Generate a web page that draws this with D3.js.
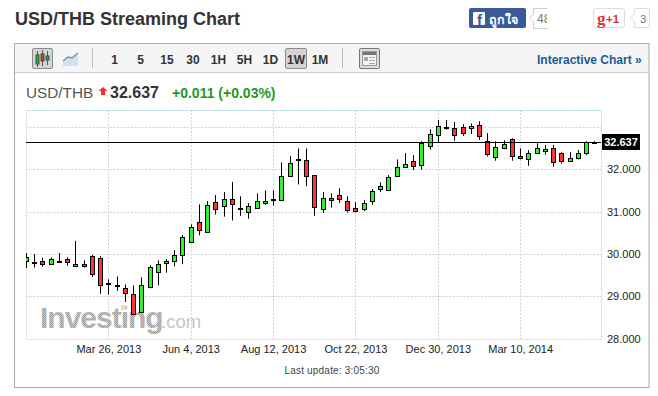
<!DOCTYPE html>
<html><head><meta charset="utf-8">
<script src="https://cdn.jsdelivr.net/npm/d3@7/dist/d3.min.js"></script>
<style>html,body{margin:0;padding:0;background:#fff}svg{display:block}text{font-family:"Liberation Sans",Arial,sans-serif}</style>
</head><body><svg id="c" width="658" height="396"></svg>
<script>
const opens=[29.83,29.78,29.83,29.76,29.80,29.87,29.71,29.76,29.95,29.90,29.28,29.26,29.19,29.05,28.62,29.21,29.57,29.78,29.83,29.97,30.28,30.75,30.51,31.22,31.13,31.29,31.05,30.98,31.08,31.20,31.28,31.27,31.83,32.20,32.21,31.86,31.05,31.31,31.39,31.24,31.08,31.05,31.24,31.53,31.50,31.83,32.05,32.19,32.09,32.54,32.80,32.98,32.97,32.99,32.97,33.04,32.66,32.28,32.49,32.71,32.31,32.23,32.38,32.42,32.49,32.38,32.19,32.26,32.38,32.61];
const highs=[30.02,30.00,29.91,29.92,30.02,29.92,30.31,29.85,29.98,29.95,29.40,29.47,29.28,29.26,29.45,29.73,29.85,29.88,30.09,30.45,30.70,31.17,31.25,31.39,31.46,31.70,31.36,31.20,31.43,31.50,31.50,32.16,32.31,32.49,32.49,31.86,31.46,31.43,31.55,31.36,31.22,31.27,31.53,31.69,31.86,32.23,32.38,32.33,32.66,32.94,33.16,33.16,33.11,33.06,33.08,33.13,32.85,32.66,32.68,32.73,32.49,32.45,32.61,32.57,32.57,32.40,32.40,32.45,32.66,32.66];
const lows=[29.67,29.68,29.70,29.75,29.79,29.72,29.70,29.68,29.46,29.06,29.04,29.13,28.87,28.56,28.61,29.19,29.26,29.56,29.71,29.76,30.26,30.44,30.51,30.93,30.88,30.79,30.90,30.83,31.07,31.16,31.14,31.26,31.82,31.64,31.60,30.90,30.97,31.09,31.20,30.98,30.98,31.01,31.16,31.46,31.50,31.83,32.04,31.98,31.99,32.46,32.64,32.93,32.67,32.78,32.83,32.69,32.30,32.20,32.47,32.20,32.23,32.08,32.37,32.34,32.06,32.13,32.18,32.23,32.33,32.60];
const closes=[29.92,29.80,29.77,29.87,29.83,29.79,29.76,29.71,29.52,29.26,29.31,29.28,29.07,28.58,29.26,29.69,29.76,29.83,29.97,30.39,30.63,30.56,31.15,31.05,31.29,31.17,31.08,31.13,31.24,31.24,31.30,31.83,32.14,32.23,31.83,31.10,31.31,31.27,31.29,31.03,31.01,31.20,31.48,31.60,31.81,32.05,32.12,32.07,32.61,32.82,33.01,33.00,32.80,32.85,33.01,32.78,32.35,32.52,32.59,32.31,32.26,32.38,32.49,32.47,32.16,32.19,32.26,32.38,32.64,32.637];
const tickIndex=[10,20,30,40,50,60];
const tickLabels=["Mar 26, 2013","Jun 4, 2013","Aug 12, 2013","Oct 22, 2013","Dec 30, 2013","Mar 10, 2014"];
const priceTicks=[28,29,30,31,32];
const gridPrices=[29,30,31,32,33];
const lastPrice=32.637;
const intervals=["1","5","15","30","1H","5H","1D","1W","1M"];
const intervalX=[114.5,140.5,167,193,218.5,244.5,270.5,296,320];

const svg=d3.select("#c");
const F='"Liberation Sans",Arial,sans-serif';
const txt=(s,x,y,size,fill,weight,anchor)=>svg.append("text").attr("x",x).attr("y",y).attr("font-size",size).attr("fill",fill).attr("font-weight",weight||"normal").attr("text-anchor",anchor||"start").text(s);

// header
txt("USD/THB Streaming Chart",15,25,18,"#333","bold");
svg.append("rect").attr("x",469).attr("y",8).attr("width",57).attr("height",20).attr("rx",2).attr("fill","#3b5998");
svg.append("rect").attr("x",473).attr("y",12).attr("width",12).attr("height",13).attr("rx",1).attr("fill","#fff");
txt("f",477,25,15,"#3b5998","bold");
txt("ถูกใจ",489,24,12.5,"#fff","bold");
svg.append("path").attr("d","M547.5 8.5H533.5V14.5L529.5 18L533.5 22V28.5H547.5").attr("fill","#fff").attr("stroke","#ccc");
svg.append("defs").append("clipPath").attr("id","cnt").append("rect").attr("x",533).attr("y",8).attr("width",14).attr("height",20);
txt("48",537,23,12,"#777").attr("clip-path","url(#cnt)");
svg.append("rect").attr("x",593.5).attr("y",8.5).attr("width",31).attr("height",19).attr("rx",2).attr("fill","#fff").attr("stroke","#ddd");
svg.append("text").attr("x",597).attr("y",24).attr("font-size",17).attr("fill","#d33").attr("font-weight","bold").style("font-family",'"Liberation Serif",serif').text("g");
txt("+1",606,23,11.5,"#d33","bold");
svg.append("path").attr("d","M634.5 8.5H649.5V27.5H634.5V22L630.5 18L634.5 14Z").attr("fill","#fff").attr("stroke","#ddd");
txt("3",640,23,11.5,"#778");

// frame + toolbar
svg.append("rect").attr("x",14.5).attr("y",44.5).attr("width",634.5).attr("height",27.5).attr("fill","#f6f5f6");
svg.append("rect").attr("x",14.5).attr("y",43.5).attr("width",634.5).attr("height",344).attr("fill","none").attr("stroke","#aaa");
svg.append("line").attr("x1",15).attr("x2",649).attr("y1",72.5).attr("y2",72.5).attr("stroke","#d0c8d0");
[[32.5,20],[285.5,21]].forEach(([x,w])=>svg.append("rect").attr("x",x).attr("y",48.5).attr("width",w).attr("height",20).attr("rx",1.5).attr("fill","#d4d4d4").attr("stroke","#8a8a8a"));
[92.5,342.5].forEach(x=>svg.append("line").attr("x1",x).attr("x2",x).attr("y1",48).attr("y2",68).attr("stroke","#bbb"));
// toolbar candle icon
[[37.5,55,64,"#22b022",51,67],[42.5,54,61,"#e03030",50,66],[47.5,56,60,"#22b022",51,65]].forEach(([x,t,b,c,h,l])=>{
  svg.append("line").attr("x1",x).attr("x2",x).attr("y1",h).attr("y2",l).attr("stroke","#556");
  svg.append("rect").attr("x",x-1.5).attr("y",t).attr("width",3).attr("height",b-t).attr("fill",c).attr("stroke","#354");
});
svg.append("path").attr("d","M63 66V61L68 57L72 58L78 53V66Z").attr("fill","#d5dfee");
svg.append("path").attr("d","M63 61L68 57L72 58L78 53").attr("fill","none").attr("stroke","#6a8fc0").attr("stroke-width",1.3);
// news icon
svg.append("rect").attr("x",359.5).attr("y",48.5).attr("width",20).attr("height",20).attr("rx",1.5).attr("fill","#ddd").attr("stroke","#777");
svg.append("rect").attr("x",362.5).attr("y",51.5).attr("width",14).attr("height",14).attr("fill","#f2f2f2").attr("stroke","#999");
svg.append("rect").attr("x",363).attr("y",52).attr("width",13).attr("height",3).attr("fill","#777");
svg.append("rect").attr("x",364).attr("y",57).attr("width",4).attr("height",4).attr("fill","#aaa");
[57.5,60.5,63.5].forEach(y=>svg.append("line").attr("x1",369).attr("x2",375).attr("y1",y).attr("y2",y).attr("stroke","#aaa"));
intervals.forEach((s,i)=>txt(s,intervalX[i],64,12,"#333","bold","middle"));
txt("Interactive Chart »",537,64,12,"#1a5c96","bold");

// quote line
txt("USD/THB",26,98,15.3,"#555");
svg.append("path").attr("d","M103 87L107.5 91L105 91L105 95L101 95L101 91L98.5 91Z").attr("fill","#f03038");
txt("32.637",110,98,16,"#333","bold");
txt("+0.011 (+0.03%)",172,98,14,"#1d9a1d","bold");

// scales
const L=26,R=601,T=110,B=339;
const x=d3.scaleLinear().domain([0,69]).range([26,594.3]);
const y=d3.scaleLinear().domain([28,33.4]).range([338.8,109.8]);
const sn=v=>Math.round(v)+0.5;

// plot frame & grid
const gridCol="#cfd2dc";
const g=svg.append("g");
g.append("rect").attr("x",L+.5).attr("y",T+.5).attr("width",R-L).attr("height",B-T).attr("fill","none").attr("stroke","#c8d4dc").attr("stroke-dasharray","1.5 1");
g.append("line").attr("x1",L).attr("x2",R).attr("y1",T+.5).attr("y2",T+.5).attr("stroke","#b0e4e8").attr("stroke-dasharray","1.5 1");
g.selectAll("line.gy").data(gridPrices).join("line").attr("class","gy").attr("x1",L).attr("x2",R).attr("y1",d=>sn(y(d))).attr("y2",d=>sn(y(d))).attr("stroke",gridCol).attr("stroke-dasharray","2 1.5");
g.selectAll("line.gx").data(tickIndex).join("line").attr("class","gx").attr("y1",T).attr("y2",B).attr("x1",d=>sn(x(d))).attr("x2",d=>sn(x(d))).attr("stroke",gridCol).attr("stroke-dasharray","2 1.5");

// watermark
const defs=svg.append("defs");
const pat=defs.append("pattern").attr("id","dith").attr("width",2).attr("height",2).attr("patternUnits","userSpaceOnUse");
pat.append("rect").attr("width",2).attr("height",2).attr("fill","#c4c4c4");
pat.append("rect").attr("width",1).attr("height",1).attr("fill","#a0a0a0");
pat.append("rect").attr("x",1).attr("y",1).attr("width",1).attr("height",1).attr("fill","#a0a0a0");
svg.append("text").attr("x",40).attr("y",328).attr("font-size",30).attr("font-weight","bold").attr("fill","url(#dith)").attr("letter-spacing",-1).text("Investing");
svg.append("text").attr("x",161).attr("y",328).attr("font-size",18.5).attr("fill","#c6c6c6").text(".com");
svg.append("rect").attr("x",121).attr("y",305).attr("width",5).attr("height",5).attr("fill","#f3d9a8");

// candles
svg.append("defs").append("clipPath").attr("id","plot").append("rect").attr("x",L).attr("y",T).attr("width",R-L).attr("height",B-T);
const cg=svg.append("g").attr("clip-path","url(#plot)");
const idx=d3.range(opens.length);
cg.selectAll("line.w").data(idx).join("line").attr("class","w")
  .attr("x1",i=>sn(x(i))).attr("x2",i=>sn(x(i))).attr("y1",i=>y(highs[i])).attr("y2",i=>y(lows[i])).attr("stroke","#000");
cg.selectAll("rect.b").data(idx).join("rect").attr("class","b")
  .attr("x",i=>sn(x(i))-2).attr("width",4)
  .attr("y",i=>sn(y(Math.max(opens[i],closes[i]))))
  .attr("height",i=>Math.max(1,Math.round(Math.abs(y(opens[i])-y(closes[i])))))
  .attr("fill",i=>closes[i]>=opens[i]?"#33f033":"#ff3333").attr("stroke","#000");

// last price line
svg.append("line").attr("x1",L).attr("x2",R).attr("y1",sn(y(lastPrice))).attr("y2",sn(y(lastPrice))).attr("stroke","#000");

// axes
const ax=svg.append("g").attr("transform",`translate(0,${B})`).call(d3.axisBottom(x).tickValues(tickIndex).tickFormat((d,i)=>tickLabels[i]).tickSize(0).tickPadding(6));
ax.select(".domain").remove();
ax.selectAll("text").attr("font-size",11).attr("fill","#222").style("font-family",F);
const ay=svg.append("g").attr("transform",`translate(${R},0)`).call(d3.axisRight(y).tickValues(priceTicks).tickFormat(d3.format(".3f")).tickSize(0).tickPadding(6));
ay.select(".domain").remove();
ay.selectAll("text").attr("font-size",11).attr("fill","#222").style("font-family",F);

// last price tag
svg.append("rect").attr("x",602).attr("y",Math.round(y(lastPrice))-8).attr("width",38).attr("height",16).attr("fill","#000");
txt(d3.format(".3f")(lastPrice),621,y(lastPrice)+4,11,"#fff","bold","middle");

txt("Last update: 3:05:30",332,374,10,"#444","normal","middle").attr("letter-spacing",0.2);
</script></body></html>
